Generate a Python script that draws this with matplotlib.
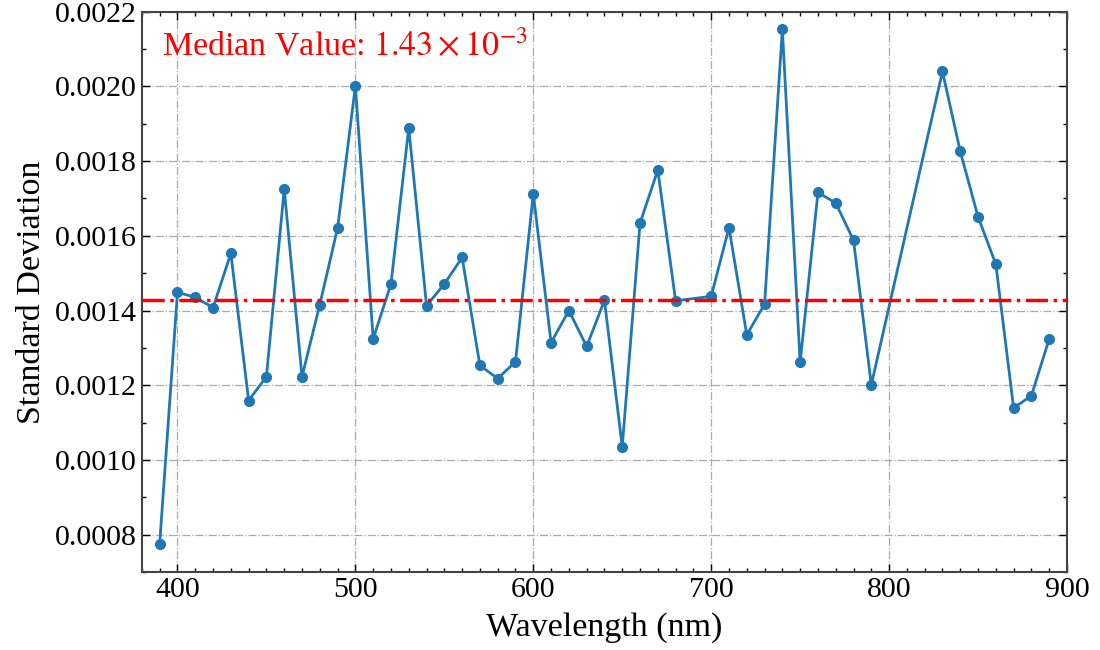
import numpy as np
import matplotlib
matplotlib.use("Agg")
import matplotlib.pyplot as plt
from matplotlib.ticker import MultipleLocator

# wavelengths (nm) and standard deviation
wavelengths = [390, 400, 410, 420, 430, 440, 450, 460, 470, 480,
               490, 500, 510, 520, 530, 540, 550, 560, 570, 580,
               590, 600, 610, 620, 630, 640, 650, 660, 670, 680,
               700, 710, 720, 730, 740, 750, 760, 770, 780, 790,
               830, 840, 850, 860, 870, 880, 890]
std_dev = [0.000776, 0.001449, 0.001435, 0.001408, 0.001553, 0.001159, 0.001223, 0.001725, 0.001223, 0.001416,
           0.001621, 0.002001, 0.001324, 0.001471, 0.001889, 0.001413, 0.001471, 0.001542, 0.001253, 0.001218,
           0.001263, 0.001713, 0.001314, 0.001400, 0.001304, 0.001427, 0.001035, 0.001634, 0.001776, 0.001426,
           0.001438, 0.001622, 0.001335, 0.001417, 0.002153, 0.001261, 0.001716, 0.001688, 0.001588, 0.001201,
           0.002040, 0.001826, 0.001651, 0.001524, 0.001139, 0.001172, 0.001324]

median_val = np.median(std_dev)

plt.rcParams['font.family'] = ['Liberation Serif', 'DejaVu Serif']
plt.rcParams['mathtext.fontset'] = 'stix'

fig = plt.figure(figsize=(11, 6.5), dpi=100)
ax = fig.add_axes([0.129, 0.12, 0.841, 0.862])

ax.plot(wavelengths, std_dev, color="#1f77b4", linewidth=2, marker="o", markersize=7, zorder=3)
ax.axhline(median_val, color="red", linestyle="-.", linewidth=2.5, zorder=4)
ax.text(0.022, 0.94, r"Median Value: $%.2f\times10^{-3}$" % (median_val * 1000),
        transform=ax.transAxes, color="red", fontsize=24.5, va="center", ha="left")

ax.set_xlim(380, 900)
ax.set_ylim(0.0007, 0.0022)
ax.xaxis.set_major_locator(MultipleLocator(100))
ax.xaxis.set_minor_locator(MultipleLocator(10))
ax.yaxis.set_major_locator(MultipleLocator(0.0002))
ax.yaxis.set_minor_locator(MultipleLocator(0.0001))
ax.yaxis.set_major_formatter(plt.FuncFormatter(lambda v, p: "%.4f" % v))

ax.tick_params(which="both", direction="in", top=True, right=True, labelsize=21.5)
ax.tick_params(which="major", length=6, width=1)
ax.tick_params(which="minor", length=3, width=1)
for s in ax.spines.values():
    s.set_linewidth(1.5)
    s.set_color("#444444")

ax.grid(True, which="major", linestyle="-.", color="#aaaaaa", linewidth=0.9)
ax.set_axisbelow(True)

ax.set_xlabel("Wavelength (nm)", fontsize=24.5, labelpad=7)
ax.set_ylabel("Standard Deviation", fontsize=24.5, labelpad=6)

fig.savefig("out.png", dpi=100)
